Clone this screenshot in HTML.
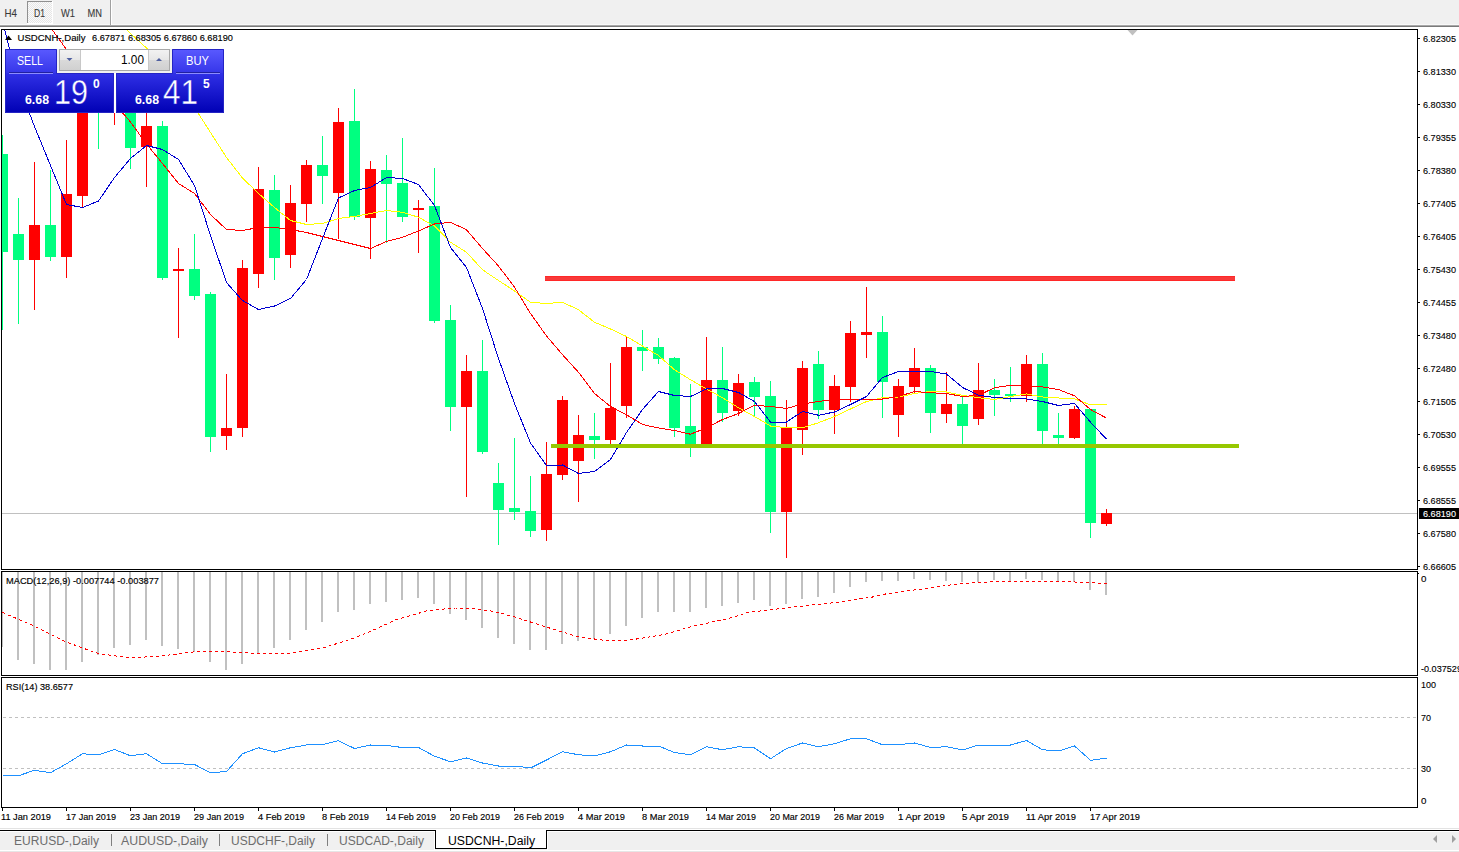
<!DOCTYPE html>
<html><head><meta charset="utf-8"><title>USDCNH-,Daily</title>
<style>
html,body{margin:0;padding:0;background:#fff;width:1459px;height:852px;overflow:hidden}
svg{display:block}
text{font-family:'Liberation Sans',sans-serif}
</style></head><body>
<svg width="1459" height="852" viewBox="0 0 1459 852">
<defs>
<clipPath id="cm"><rect x="2" y="30" width="1415" height="539"/></clipPath>
<clipPath id="cmacd"><rect x="2" y="572" width="1415" height="103"/></clipPath>
<clipPath id="crsi"><rect x="2" y="678" width="1415" height="129"/></clipPath>
<pattern id="chk" x="0" y="0" width="2" height="2" patternUnits="userSpaceOnUse"><rect width="2" height="2" fill="#fbfbfb"/><rect width="1" height="1" fill="#e6e6e6"/><rect x="1" y="1" width="1" height="1" fill="#e6e6e6"/></pattern>
<linearGradient id="gb1" x1="0" y1="0" x2="0" y2="1"><stop offset="0" stop-color="#5a5aff"/><stop offset="1" stop-color="#3434e8"/></linearGradient>
<linearGradient id="gb2" x1="0" y1="0" x2="0" y2="1"><stop offset="0" stop-color="#3030e6"/><stop offset="1" stop-color="#0000b4"/></linearGradient>
<linearGradient id="gbtn" x1="0" y1="0" x2="0" y2="1"><stop offset="0" stop-color="#f2f2f2"/><stop offset="0.5" stop-color="#e6e6e6"/><stop offset="0.5" stop-color="#dadada"/><stop offset="1" stop-color="#d0d0d0"/></linearGradient>
</defs>
<rect x="0" y="0" width="1459" height="852" fill="#ffffff"/>

<rect x="0" y="0" width="1459" height="25" fill="#f0f0f0"/>
<rect x="0" y="24" width="1459" height="1" fill="#f8f8f8"/>
<rect x="0" y="25" width="1459" height="1" fill="#a8a8a8"/>
<rect x="0" y="26" width="1459" height="1" fill="#7a7a7a"/>
<g shape-rendering="crispEdges">
<rect x="27" y="1" width="26" height="23" fill="#ffffff"/>
<rect x="27" y="1" width="25" height="22" fill="#909090"/>
<rect x="28" y="2" width="24" height="21" fill="url(#chk)"/>
<rect x="110" y="0" width="1" height="25" fill="#a0a0a0"/>
<rect x="111" y="0" width="1" height="25" fill="#ffffff"/>
</g>

<text x="4.5" y="17" font-size="10.6" fill="#3a3a3a" stroke="#3a3a3a" stroke-width="0.1" textLength="12.5" lengthAdjust="spacingAndGlyphs">H4</text>
<text x="34" y="17" font-size="10.6" fill="#3a3a3a" stroke="#3a3a3a" stroke-width="0.1" textLength="11" lengthAdjust="spacingAndGlyphs">D1</text>
<text x="61" y="17" font-size="10.6" fill="#3a3a3a" stroke="#3a3a3a" stroke-width="0.1" textLength="14" lengthAdjust="spacingAndGlyphs">W1</text>
<text x="87.5" y="17" font-size="10.6" fill="#3a3a3a" stroke="#3a3a3a" stroke-width="0.1" textLength="14.5" lengthAdjust="spacingAndGlyphs">MN</text>
<g shape-rendering="crispEdges" fill="#000">
<rect x="1" y="29" width="1417" height="1"/>
<rect x="1" y="569" width="1417" height="1"/>
<rect x="1" y="571" width="1417" height="1"/>
<rect x="1" y="675" width="1417" height="1"/>
<rect x="1" y="677" width="1417" height="1"/>
<rect x="1" y="807" width="1417" height="1"/>
<rect x="1" y="29" width="1" height="541"/>
<rect x="1" y="571" width="1" height="105"/>
<rect x="1" y="677" width="1" height="131"/>
<rect x="1417" y="29" width="1" height="541"/>
<rect x="1417" y="571" width="1" height="105"/>
<rect x="1417" y="677" width="1" height="131"/>
</g>

<g clip-path="url(#cm)" shape-rendering="crispEdges">
<rect x="2" y="513" width="1415" height="1" fill="#c0c0c0"/>
<rect x="2" y="135" width="1" height="195" fill="#00ff80"/>
<rect x="-3" y="154" width="11" height="98" fill="#00ff80"/>
<rect x="18" y="198" width="1" height="126" fill="#00ff80"/>
<rect x="13" y="234" width="11" height="26" fill="#00ff80"/>
<rect x="34" y="162" width="1" height="148" fill="#ff0000"/>
<rect x="29" y="225" width="11" height="35" fill="#ff0000"/>
<rect x="50" y="170" width="1" height="91" fill="#00ff80"/>
<rect x="45" y="225" width="11" height="32" fill="#00ff80"/>
<rect x="66" y="140" width="1" height="138" fill="#ff0000"/>
<rect x="61" y="194" width="11" height="63" fill="#ff0000"/>
<rect x="82" y="90" width="1" height="117" fill="#ff0000"/>
<rect x="77" y="100" width="11" height="96" fill="#ff0000"/>
<rect x="98" y="60" width="1" height="89" fill="#00ff80"/>
<rect x="93" y="70" width="11" height="30" fill="#00ff80"/>
<rect x="114" y="60" width="1" height="65" fill="#ff0000"/>
<rect x="109" y="70" width="11" height="35" fill="#ff0000"/>
<rect x="130" y="80" width="1" height="89" fill="#00ff80"/>
<rect x="125" y="90" width="11" height="58" fill="#00ff80"/>
<rect x="146" y="105" width="1" height="82" fill="#ff0000"/>
<rect x="141" y="126" width="11" height="21" fill="#ff0000"/>
<rect x="162" y="121" width="1" height="159" fill="#00ff80"/>
<rect x="157" y="126" width="11" height="152" fill="#00ff80"/>
<rect x="178" y="248" width="1" height="90" fill="#ff0000"/>
<rect x="173" y="269" width="11" height="2" fill="#ff0000"/>
<rect x="194" y="234" width="1" height="66" fill="#00ff80"/>
<rect x="189" y="269" width="11" height="27" fill="#00ff80"/>
<rect x="210" y="292" width="1" height="160" fill="#00ff80"/>
<rect x="205" y="294" width="11" height="143" fill="#00ff80"/>
<rect x="226" y="374" width="1" height="76" fill="#ff0000"/>
<rect x="221" y="428" width="11" height="8" fill="#ff0000"/>
<rect x="242" y="260" width="1" height="177" fill="#ff0000"/>
<rect x="237" y="268" width="11" height="160" fill="#ff0000"/>
<rect x="258" y="167" width="1" height="121" fill="#ff0000"/>
<rect x="253" y="189" width="11" height="85" fill="#ff0000"/>
<rect x="274" y="175" width="1" height="105" fill="#00ff80"/>
<rect x="269" y="190" width="11" height="68" fill="#00ff80"/>
<rect x="290" y="185" width="1" height="83" fill="#ff0000"/>
<rect x="285" y="203" width="11" height="52" fill="#ff0000"/>
<rect x="306" y="160" width="1" height="62" fill="#ff0000"/>
<rect x="301" y="165" width="11" height="39" fill="#ff0000"/>
<rect x="322" y="136" width="1" height="68" fill="#00ff80"/>
<rect x="317" y="165" width="11" height="11" fill="#00ff80"/>
<rect x="338" y="108" width="1" height="131" fill="#ff0000"/>
<rect x="333" y="122" width="11" height="71" fill="#ff0000"/>
<rect x="354" y="89" width="1" height="131" fill="#00ff80"/>
<rect x="349" y="121" width="11" height="96" fill="#00ff80"/>
<rect x="370" y="161" width="1" height="98" fill="#ff0000"/>
<rect x="365" y="169" width="11" height="49" fill="#ff0000"/>
<rect x="386" y="155" width="1" height="88" fill="#00ff80"/>
<rect x="381" y="170" width="11" height="14" fill="#00ff80"/>
<rect x="402" y="138" width="1" height="84" fill="#00ff80"/>
<rect x="397" y="183" width="11" height="34" fill="#00ff80"/>
<rect x="418" y="200" width="1" height="53" fill="#ff0000"/>
<rect x="413" y="208" width="11" height="2" fill="#ff0000"/>
<rect x="434" y="168" width="1" height="155" fill="#00ff80"/>
<rect x="429" y="206" width="11" height="115" fill="#00ff80"/>
<rect x="450" y="305" width="1" height="126" fill="#00ff80"/>
<rect x="445" y="320" width="11" height="87" fill="#00ff80"/>
<rect x="466" y="355" width="1" height="142" fill="#ff0000"/>
<rect x="461" y="371" width="11" height="36" fill="#ff0000"/>
<rect x="482" y="340" width="1" height="114" fill="#00ff80"/>
<rect x="477" y="371" width="11" height="81" fill="#00ff80"/>
<rect x="498" y="463" width="1" height="82" fill="#00ff80"/>
<rect x="493" y="483" width="11" height="27" fill="#00ff80"/>
<rect x="514" y="438" width="1" height="82" fill="#00ff80"/>
<rect x="509" y="508" width="11" height="4" fill="#00ff80"/>
<rect x="530" y="476" width="1" height="61" fill="#00ff80"/>
<rect x="525" y="511" width="11" height="20" fill="#00ff80"/>
<rect x="546" y="442" width="1" height="99" fill="#ff0000"/>
<rect x="541" y="474" width="11" height="56" fill="#ff0000"/>
<rect x="562" y="396" width="1" height="84" fill="#ff0000"/>
<rect x="557" y="400" width="11" height="75" fill="#ff0000"/>
<rect x="578" y="415" width="1" height="87" fill="#ff0000"/>
<rect x="573" y="435" width="11" height="26" fill="#ff0000"/>
<rect x="594" y="413" width="1" height="46" fill="#00ff80"/>
<rect x="589" y="436" width="11" height="4" fill="#00ff80"/>
<rect x="610" y="363" width="1" height="82" fill="#ff0000"/>
<rect x="605" y="408" width="11" height="32" fill="#ff0000"/>
<rect x="626" y="337" width="1" height="81" fill="#ff0000"/>
<rect x="621" y="347" width="11" height="59" fill="#ff0000"/>
<rect x="642" y="330" width="1" height="41" fill="#00ff80"/>
<rect x="637" y="347" width="11" height="4" fill="#00ff80"/>
<rect x="658" y="338" width="1" height="26" fill="#00ff80"/>
<rect x="653" y="347" width="11" height="12" fill="#00ff80"/>
<rect x="674" y="357" width="1" height="80" fill="#00ff80"/>
<rect x="669" y="358" width="11" height="70" fill="#00ff80"/>
<rect x="690" y="384" width="1" height="73" fill="#00ff80"/>
<rect x="685" y="426" width="11" height="19" fill="#00ff80"/>
<rect x="706" y="337" width="1" height="108" fill="#ff0000"/>
<rect x="701" y="380" width="11" height="64" fill="#ff0000"/>
<rect x="722" y="347" width="1" height="75" fill="#00ff80"/>
<rect x="717" y="380" width="11" height="33" fill="#00ff80"/>
<rect x="738" y="374" width="1" height="42" fill="#ff0000"/>
<rect x="733" y="383" width="11" height="28" fill="#ff0000"/>
<rect x="754" y="377" width="1" height="40" fill="#00ff80"/>
<rect x="749" y="382" width="11" height="15" fill="#00ff80"/>
<rect x="770" y="381" width="1" height="152" fill="#00ff80"/>
<rect x="765" y="396" width="11" height="116" fill="#00ff80"/>
<rect x="786" y="400" width="1" height="158" fill="#ff0000"/>
<rect x="781" y="427" width="11" height="85" fill="#ff0000"/>
<rect x="802" y="361" width="1" height="94" fill="#ff0000"/>
<rect x="797" y="368" width="11" height="62" fill="#ff0000"/>
<rect x="818" y="351" width="1" height="68" fill="#00ff80"/>
<rect x="813" y="364" width="11" height="46" fill="#00ff80"/>
<rect x="834" y="375" width="1" height="59" fill="#ff0000"/>
<rect x="829" y="386" width="11" height="24" fill="#ff0000"/>
<rect x="850" y="321" width="1" height="81" fill="#ff0000"/>
<rect x="845" y="333" width="11" height="54" fill="#ff0000"/>
<rect x="866" y="287" width="1" height="71" fill="#ff0000"/>
<rect x="861" y="332" width="11" height="3" fill="#ff0000"/>
<rect x="882" y="316" width="1" height="102" fill="#00ff80"/>
<rect x="877" y="332" width="11" height="50" fill="#00ff80"/>
<rect x="898" y="379" width="1" height="58" fill="#ff0000"/>
<rect x="893" y="386" width="11" height="29" fill="#ff0000"/>
<rect x="914" y="348" width="1" height="45" fill="#ff0000"/>
<rect x="909" y="368" width="11" height="19" fill="#ff0000"/>
<rect x="930" y="365" width="1" height="68" fill="#00ff80"/>
<rect x="925" y="368" width="11" height="45" fill="#00ff80"/>
<rect x="946" y="372" width="1" height="51" fill="#ff0000"/>
<rect x="941" y="404" width="11" height="10" fill="#ff0000"/>
<rect x="962" y="397" width="1" height="48" fill="#00ff80"/>
<rect x="957" y="404" width="11" height="22" fill="#00ff80"/>
<rect x="978" y="363" width="1" height="62" fill="#ff0000"/>
<rect x="973" y="390" width="11" height="29" fill="#ff0000"/>
<rect x="994" y="379" width="1" height="37" fill="#00ff80"/>
<rect x="989" y="390" width="11" height="5" fill="#00ff80"/>
<rect x="1010" y="367" width="1" height="35" fill="#00ff80"/>
<rect x="1005" y="394" width="11" height="2" fill="#00ff80"/>
<rect x="1026" y="355" width="1" height="47" fill="#ff0000"/>
<rect x="1021" y="364" width="11" height="32" fill="#ff0000"/>
<rect x="1042" y="353" width="1" height="91" fill="#00ff80"/>
<rect x="1037" y="364" width="11" height="67" fill="#00ff80"/>
<rect x="1058" y="413" width="1" height="31" fill="#00ff80"/>
<rect x="1053" y="435" width="11" height="3" fill="#00ff80"/>
<rect x="1074" y="406" width="1" height="33" fill="#ff0000"/>
<rect x="1069" y="409" width="11" height="29" fill="#ff0000"/>
<rect x="1090" y="409" width="1" height="129" fill="#00ff80"/>
<rect x="1085" y="409" width="11" height="114" fill="#00ff80"/>
<rect x="1106" y="509" width="1" height="17" fill="#ff0000"/>
<rect x="1101" y="513" width="11" height="11" fill="#ff0000"/>
</g>
<g clip-path="url(#cm)">
<polyline points="114.5,18.5 130.5,33.5 146.5,48.0 162.5,68.5 178.5,88.5 194.5,107.5 210.5,132.5 226.5,157.5 242.5,178.0 258.5,193.5 274.5,207.5 290.5,220.5 306.5,224.5 322.5,223.5 338.5,218.5 354.5,216.5 370.5,213.5 386.5,210.5 402.5,212.25 418.5,217.25 434.5,226.0 450.5,242.25 466.5,252.25 482.5,269.75 498.5,280.5 514.5,291.0 530.5,302.25 546.5,303.5 562.5,302.25 578.5,309.75 594.5,322.25 610.5,329.0 626.5,336.5 642.5,346.0 658.5,355.5 674.5,369.75 690.5,379.75 706.5,389.0 722.5,397.75 738.5,407.75 754.5,416.5 770.5,426.0 786.5,427.75 802.5,427.75 818.5,422.75 834.5,416.5 850.5,409.0 866.5,401.5 882.5,397.75 898.5,397.0 914.5,393.5 930.5,391.5 946.5,392.0 962.5,395.25 978.5,397.75 994.5,399.5 1010.5,396.5 1026.5,393.9 1042.5,397.0 1058.5,398.0 1074.5,398.9 1090.5,404.9 1106.5,404.9" fill="none" stroke="#ffff00" stroke-width="1" shape-rendering="crispEdges" />
<polyline points="34.5,3.5 50.5,27.5 66.5,49.5 82.5,67.5 98.5,85.5 114.5,103.5 130.5,122.0 146.5,144.0 162.5,163.5 178.5,183.5 194.5,193.5 210.5,214.5 226.5,229.5 242.5,230.5 258.5,227.5 274.5,227.5 290.5,229.5 306.5,232.5 322.5,236.5 338.5,240.5 354.5,244.5 370.5,248.5 386.5,241.5 402.5,237.25 418.5,231.0 434.5,224.0 450.5,222.25 466.5,229.75 482.5,248.5 498.5,266.0 514.5,287.25 530.5,313.5 546.5,336.0 562.5,354.75 578.5,372.25 594.5,393.5 610.5,406.5 626.5,414.75 642.5,424.5 658.5,428.0 674.5,430.5 690.5,434.25 706.5,427.75 722.5,419.5 738.5,413.5 754.5,405.25 770.5,406.5 786.5,408.5 802.5,404.0 818.5,401.5 834.5,399.5 850.5,399.0 866.5,399.0 882.5,399.0 898.5,396.5 914.5,391.5 930.5,392.75 946.5,393.5 962.5,396.5 978.5,395.25 994.5,387.75 1010.5,385.25 1026.5,386.0 1042.5,387.0 1058.5,389.5 1074.5,395.8 1090.5,409.5 1106.5,418.1" fill="none" stroke="#ff0000" stroke-width="1" shape-rendering="crispEdges" />
<polyline points="2.5,21.5 18.5,84.5 34.5,126.5 50.5,165.5 66.5,204.5 82.5,207.5 98.5,201.0 114.5,177.5 130.5,158.5 146.5,145.5 162.5,149.5 178.5,159.5 194.5,185.5 210.5,235.5 226.5,282.5 242.5,300.5 258.5,309.5 274.5,306.0 290.5,298.5 306.5,279.5 322.5,238.5 338.5,198.0 354.5,190.5 370.5,187.5 386.5,177.5 402.5,178.5 418.5,184.5 434.5,205.5 450.5,247.5 466.5,267.5 482.5,308.5 498.5,358.5 514.5,403.5 530.5,443.0 546.5,465.5 562.5,465.0 578.5,473.5 594.5,471.5 610.5,459.5 626.5,432.5 642.5,409.5 658.5,391.5 674.5,395.5 690.5,396.5 706.5,389.0 722.5,388.5 738.5,392.5 754.5,401.5 770.5,422.0 786.5,422.0 802.5,411.5 818.5,415.25 834.5,412.0 850.5,404.5 866.5,396.5 882.5,377.5 898.5,371.5 914.5,371.5 930.5,371.5 946.5,374.0 962.5,387.5 978.5,395.25 994.5,397.5 1010.5,398.5 1026.5,399.0 1042.5,401.5 1058.5,405.5 1074.5,403.5 1090.5,422.2 1106.5,439.1" fill="none" stroke="#0000d0" stroke-width="1" shape-rendering="crispEdges" />
<rect x="545" y="276" width="690" height="5" fill="#f83a3a" shape-rendering="crispEdges"/>
<rect x="545" y="276" width="690" height="1" fill="#ff2828" shape-rendering="crispEdges"/>
<rect x="545" y="280" width="690" height="1" fill="#ff2828" shape-rendering="crispEdges"/>
<rect x="551" y="444" width="688" height="4" fill="#96c800" shape-rendering="crispEdges"/>
</g>
<g clip-path="url(#cmacd)" shape-rendering="crispEdges">
<rect x="1" y="572" width="2" height="75" fill="#c0c0c0"/>
<rect x="17" y="572" width="2" height="88" fill="#c0c0c0"/>
<rect x="33" y="572" width="2" height="92" fill="#c0c0c0"/>
<rect x="49" y="572" width="2" height="98" fill="#c0c0c0"/>
<rect x="65" y="572" width="2" height="98" fill="#c0c0c0"/>
<rect x="81" y="572" width="2" height="90" fill="#c0c0c0"/>
<rect x="97" y="572" width="2" height="83" fill="#c0c0c0"/>
<rect x="113" y="572" width="2" height="76" fill="#c0c0c0"/>
<rect x="129" y="572" width="2" height="73" fill="#c0c0c0"/>
<rect x="145" y="572" width="2" height="68" fill="#c0c0c0"/>
<rect x="161" y="572" width="2" height="74" fill="#c0c0c0"/>
<rect x="177" y="572" width="2" height="77" fill="#c0c0c0"/>
<rect x="193" y="572" width="2" height="80" fill="#c0c0c0"/>
<rect x="209" y="572" width="2" height="90" fill="#c0c0c0"/>
<rect x="225" y="572" width="2" height="98" fill="#c0c0c0"/>
<rect x="241" y="572" width="2" height="92" fill="#c0c0c0"/>
<rect x="257" y="572" width="2" height="81" fill="#c0c0c0"/>
<rect x="273" y="572" width="2" height="76" fill="#c0c0c0"/>
<rect x="289" y="572" width="2" height="68" fill="#c0c0c0"/>
<rect x="305" y="572" width="2" height="58" fill="#c0c0c0"/>
<rect x="321" y="572" width="2" height="50" fill="#c0c0c0"/>
<rect x="337" y="572" width="2" height="40" fill="#c0c0c0"/>
<rect x="353" y="572" width="2" height="38" fill="#c0c0c0"/>
<rect x="369" y="572" width="2" height="32" fill="#c0c0c0"/>
<rect x="385" y="572" width="2" height="30" fill="#c0c0c0"/>
<rect x="401" y="572" width="2" height="28" fill="#c0c0c0"/>
<rect x="417" y="572" width="2" height="26" fill="#c0c0c0"/>
<rect x="433" y="572" width="2" height="32" fill="#c0c0c0"/>
<rect x="449" y="572" width="2" height="42" fill="#c0c0c0"/>
<rect x="465" y="572" width="2" height="48" fill="#c0c0c0"/>
<rect x="481" y="572" width="2" height="56" fill="#c0c0c0"/>
<rect x="497" y="572" width="2" height="66" fill="#c0c0c0"/>
<rect x="513" y="572" width="2" height="72" fill="#c0c0c0"/>
<rect x="529" y="572" width="2" height="78" fill="#c0c0c0"/>
<rect x="545" y="572" width="2" height="78" fill="#c0c0c0"/>
<rect x="561" y="572" width="2" height="72" fill="#c0c0c0"/>
<rect x="577" y="572" width="2" height="69" fill="#c0c0c0"/>
<rect x="593" y="572" width="2" height="67" fill="#c0c0c0"/>
<rect x="609" y="572" width="2" height="62" fill="#c0c0c0"/>
<rect x="625" y="572" width="2" height="54" fill="#c0c0c0"/>
<rect x="641" y="572" width="2" height="46" fill="#c0c0c0"/>
<rect x="657" y="572" width="2" height="40" fill="#c0c0c0"/>
<rect x="673" y="572" width="2" height="40" fill="#c0c0c0"/>
<rect x="689" y="572" width="2" height="40" fill="#c0c0c0"/>
<rect x="705" y="572" width="2" height="36" fill="#c0c0c0"/>
<rect x="721" y="572" width="2" height="34" fill="#c0c0c0"/>
<rect x="737" y="572" width="2" height="31" fill="#c0c0c0"/>
<rect x="753" y="572" width="2" height="28" fill="#c0c0c0"/>
<rect x="769" y="572" width="2" height="34" fill="#c0c0c0"/>
<rect x="785" y="572" width="2" height="32" fill="#c0c0c0"/>
<rect x="801" y="572" width="2" height="27" fill="#c0c0c0"/>
<rect x="817" y="572" width="2" height="25" fill="#c0c0c0"/>
<rect x="833" y="572" width="2" height="21" fill="#c0c0c0"/>
<rect x="849" y="572" width="2" height="15" fill="#c0c0c0"/>
<rect x="865" y="572" width="2" height="10" fill="#c0c0c0"/>
<rect x="881" y="572" width="2" height="9" fill="#c0c0c0"/>
<rect x="897" y="572" width="2" height="9" fill="#c0c0c0"/>
<rect x="913" y="572" width="2" height="7" fill="#c0c0c0"/>
<rect x="929" y="572" width="2" height="8" fill="#c0c0c0"/>
<rect x="945" y="572" width="2" height="9" fill="#c0c0c0"/>
<rect x="961" y="572" width="2" height="10" fill="#c0c0c0"/>
<rect x="977" y="572" width="2" height="10" fill="#c0c0c0"/>
<rect x="993" y="572" width="2" height="8" fill="#c0c0c0"/>
<rect x="1009" y="572" width="2" height="9" fill="#c0c0c0"/>
<rect x="1025" y="572" width="2" height="7" fill="#c0c0c0"/>
<rect x="1041" y="572" width="2" height="8" fill="#c0c0c0"/>
<rect x="1057" y="572" width="2" height="10" fill="#c0c0c0"/>
<rect x="1073" y="572" width="2" height="10" fill="#c0c0c0"/>
<rect x="1089" y="572" width="2" height="18" fill="#c0c0c0"/>
<rect x="1105" y="572" width="2" height="23" fill="#c0c0c0"/>
<polyline points="2.5,612.5 33.0,625.5 65.5,641.75 98.0,653.5 130.5,658.0 160.5,656.0 195.5,651.75 225.5,651.75 258.0,653.5 290.5,653.5 323.0,648.0 350.5,639.25 368.0,632.5 395.5,620.0 428.0,610.5 455.5,608.0 470.5,608.0 495.5,611.75 515.5,617.25 545.5,626.75 578.0,636.75 605.5,640.5 630.5,640.0 665.5,634.25 690.5,626.75 730.5,618.0 748.0,612.5 768.0,610.0 814.25,604.75 838.0,602.25 874.25,596.75 885.5,594.0 934.25,587.25 959.25,583.75 993.0,581.75 1043.0,581.0 1083.0,582.25 1095.25,583.0 1106.5,584.0" fill="none" stroke="#ff0000" stroke-width="1" stroke-dasharray="3 3"/>
</g>
<g clip-path="url(#crsi)">
<line x1="3" y1="717.5" x2="1417" y2="717.5" stroke="#c0c0c0" stroke-dasharray="3 3" shape-rendering="crispEdges"/>
<line x1="3" y1="768.5" x2="1417" y2="768.5" stroke="#c0c0c0" stroke-dasharray="3 3" shape-rendering="crispEdges"/>
<polyline points="2.5,775.75 18.5,775.75 34.5,770.25 50.5,772.75 66.5,763.75 82.5,753.75 98.5,755.0 114.5,749.5 130.5,755.75 146.5,753.75 162.5,763.75 178.5,763.75 194.5,764.5 210.5,772.75 226.5,771.5 242.5,753.75 258.5,747.75 274.5,752.0 290.5,747.75 306.5,745.0 322.5,744.5 338.5,740.75 354.5,748.5 370.5,745.0 386.5,745.5 402.5,747.5 418.5,747.5 434.5,756.25 450.5,761.75 466.5,758.0 482.5,763.0 498.5,766.0 514.5,766.0 530.5,768.0 546.5,760.0 562.5,751.75 578.5,754.75 594.5,756.0 610.5,751.75 626.5,745.0 642.5,746.0 658.5,746.0 674.5,752.5 690.5,754.75 706.5,746.75 722.5,749.75 738.5,746.75 754.5,748.0 770.5,758.75 786.5,748.5 802.5,743.0 818.5,746.75 834.5,743.75 850.5,738.75 866.5,738.75 882.5,744.75 898.5,744.75 914.5,743.0 930.5,747.5 946.5,746.75 962.5,750.0 978.5,745.0 994.5,745.0 1010.5,745.0 1026.5,740.5 1042.5,749.75 1058.5,751.0 1074.5,746.0 1090.5,760.3 1106.5,758.1" fill="none" stroke="#1e90ff" stroke-width="1" shape-rendering="crispEdges" />
</g>
<g shape-rendering="crispEdges">
<rect x="1418" y="38" width="2" height="1" fill="#000"/>
<rect x="1418" y="71" width="2" height="1" fill="#000"/>
<rect x="1418" y="104" width="2" height="1" fill="#000"/>
<rect x="1418" y="137" width="2" height="1" fill="#000"/>
<rect x="1418" y="170" width="2" height="1" fill="#000"/>
<rect x="1418" y="203" width="2" height="1" fill="#000"/>
<rect x="1418" y="236" width="2" height="1" fill="#000"/>
<rect x="1418" y="269" width="2" height="1" fill="#000"/>
<rect x="1418" y="302" width="2" height="1" fill="#000"/>
<rect x="1418" y="335" width="2" height="1" fill="#000"/>
<rect x="1418" y="368" width="2" height="1" fill="#000"/>
<rect x="1418" y="401" width="2" height="1" fill="#000"/>
<rect x="1418" y="434" width="2" height="1" fill="#000"/>
<rect x="1418" y="467" width="2" height="1" fill="#000"/>
<rect x="1418" y="500" width="2" height="1" fill="#000"/>
<rect x="1418" y="533" width="2" height="1" fill="#000"/>
<rect x="1418" y="566" width="2" height="1" fill="#000"/>
</g>
<text x="1423" y="42" font-size="9.8" fill="#000" stroke="#000" stroke-width="0.12" textLength="33" lengthAdjust="spacingAndGlyphs">6.82305</text>
<text x="1423" y="75" font-size="9.8" fill="#000" stroke="#000" stroke-width="0.12" textLength="33" lengthAdjust="spacingAndGlyphs">6.81330</text>
<text x="1423" y="108" font-size="9.8" fill="#000" stroke="#000" stroke-width="0.12" textLength="33" lengthAdjust="spacingAndGlyphs">6.80330</text>
<text x="1423" y="141" font-size="9.8" fill="#000" stroke="#000" stroke-width="0.12" textLength="33" lengthAdjust="spacingAndGlyphs">6.79355</text>
<text x="1423" y="174" font-size="9.8" fill="#000" stroke="#000" stroke-width="0.12" textLength="33" lengthAdjust="spacingAndGlyphs">6.78380</text>
<text x="1423" y="207" font-size="9.8" fill="#000" stroke="#000" stroke-width="0.12" textLength="33" lengthAdjust="spacingAndGlyphs">6.77405</text>
<text x="1423" y="240" font-size="9.8" fill="#000" stroke="#000" stroke-width="0.12" textLength="33" lengthAdjust="spacingAndGlyphs">6.76405</text>
<text x="1423" y="273" font-size="9.8" fill="#000" stroke="#000" stroke-width="0.12" textLength="33" lengthAdjust="spacingAndGlyphs">6.75430</text>
<text x="1423" y="306" font-size="9.8" fill="#000" stroke="#000" stroke-width="0.12" textLength="33" lengthAdjust="spacingAndGlyphs">6.74455</text>
<text x="1423" y="339" font-size="9.8" fill="#000" stroke="#000" stroke-width="0.12" textLength="33" lengthAdjust="spacingAndGlyphs">6.73480</text>
<text x="1423" y="372" font-size="9.8" fill="#000" stroke="#000" stroke-width="0.12" textLength="33" lengthAdjust="spacingAndGlyphs">6.72480</text>
<text x="1423" y="405" font-size="9.8" fill="#000" stroke="#000" stroke-width="0.12" textLength="33" lengthAdjust="spacingAndGlyphs">6.71505</text>
<text x="1423" y="438" font-size="9.8" fill="#000" stroke="#000" stroke-width="0.12" textLength="33" lengthAdjust="spacingAndGlyphs">6.70530</text>
<text x="1423" y="471" font-size="9.8" fill="#000" stroke="#000" stroke-width="0.12" textLength="33" lengthAdjust="spacingAndGlyphs">6.69555</text>
<text x="1423" y="504" font-size="9.8" fill="#000" stroke="#000" stroke-width="0.12" textLength="33" lengthAdjust="spacingAndGlyphs">6.68555</text>
<text x="1423" y="537" font-size="9.8" fill="#000" stroke="#000" stroke-width="0.12" textLength="33" lengthAdjust="spacingAndGlyphs">6.67580</text>
<text x="1423" y="570" font-size="9.8" fill="#000" stroke="#000" stroke-width="0.12" textLength="33" lengthAdjust="spacingAndGlyphs">6.66605</text>
<rect x="1419" y="508" width="40" height="11" fill="#000"/>
<text x="1423" y="517" font-size="9.8" fill="#fff" stroke="#fff" stroke-width="0.12" textLength="33" lengthAdjust="spacingAndGlyphs">6.68190</text>
<rect x="1418" y="573" width="1" height="1" fill="#000"/>
<text x="1421" y="582" font-size="9.8" fill="#000" stroke="#000" stroke-width="0.12">0</text>
<text x="1421" y="672" font-size="9.8" fill="#000" stroke="#000" stroke-width="0.12" textLength="41" lengthAdjust="spacingAndGlyphs">-0.037529</text>
<text x="1421" y="688" font-size="9.8" fill="#000" stroke="#000" stroke-width="0.12" textLength="15" lengthAdjust="spacingAndGlyphs">100</text>
<text x="1421" y="721" font-size="9.8" fill="#000" stroke="#000" stroke-width="0.12" textLength="10" lengthAdjust="spacingAndGlyphs">70</text>
<text x="1421" y="772" font-size="9.8" fill="#000" stroke="#000" stroke-width="0.12" textLength="10" lengthAdjust="spacingAndGlyphs">30</text>
<text x="1421" y="804" font-size="9.8" fill="#000" stroke="#000" stroke-width="0.12">0</text>
<g shape-rendering="crispEdges">
<rect x="2" y="808" width="1" height="3" fill="#000"/>
<rect x="66" y="808" width="1" height="3" fill="#000"/>
<rect x="130" y="808" width="1" height="3" fill="#000"/>
<rect x="194" y="808" width="1" height="3" fill="#000"/>
<rect x="258" y="808" width="1" height="3" fill="#000"/>
<rect x="322" y="808" width="1" height="3" fill="#000"/>
<rect x="386" y="808" width="1" height="3" fill="#000"/>
<rect x="450" y="808" width="1" height="3" fill="#000"/>
<rect x="514" y="808" width="1" height="3" fill="#000"/>
<rect x="578" y="808" width="1" height="3" fill="#000"/>
<rect x="642" y="808" width="1" height="3" fill="#000"/>
<rect x="706" y="808" width="1" height="3" fill="#000"/>
<rect x="770" y="808" width="1" height="3" fill="#000"/>
<rect x="834" y="808" width="1" height="3" fill="#000"/>
<rect x="898" y="808" width="1" height="3" fill="#000"/>
<rect x="962" y="808" width="1" height="3" fill="#000"/>
<rect x="1026" y="808" width="1" height="3" fill="#000"/>
<rect x="1090" y="808" width="1" height="3" fill="#000"/>
</g>
<text x="1" y="820" font-size="9.6" fill="#000" stroke="#000" stroke-width="0.15" textLength="50" lengthAdjust="spacingAndGlyphs">11 Jan 2019</text>
<text x="66" y="820" font-size="9.6" fill="#000" stroke="#000" stroke-width="0.15" textLength="50" lengthAdjust="spacingAndGlyphs">17 Jan 2019</text>
<text x="130" y="820" font-size="9.6" fill="#000" stroke="#000" stroke-width="0.15" textLength="50" lengthAdjust="spacingAndGlyphs">23 Jan 2019</text>
<text x="194" y="820" font-size="9.6" fill="#000" stroke="#000" stroke-width="0.15" textLength="50" lengthAdjust="spacingAndGlyphs">29 Jan 2019</text>
<text x="258" y="820" font-size="9.6" fill="#000" stroke="#000" stroke-width="0.15" textLength="47" lengthAdjust="spacingAndGlyphs">4 Feb 2019</text>
<text x="322" y="820" font-size="9.6" fill="#000" stroke="#000" stroke-width="0.15" textLength="47" lengthAdjust="spacingAndGlyphs">8 Feb 2019</text>
<text x="386" y="820" font-size="9.6" fill="#000" stroke="#000" stroke-width="0.15" textLength="50" lengthAdjust="spacingAndGlyphs">14 Feb 2019</text>
<text x="450" y="820" font-size="9.6" fill="#000" stroke="#000" stroke-width="0.15" textLength="50" lengthAdjust="spacingAndGlyphs">20 Feb 2019</text>
<text x="514" y="820" font-size="9.6" fill="#000" stroke="#000" stroke-width="0.15" textLength="50" lengthAdjust="spacingAndGlyphs">26 Feb 2019</text>
<text x="578" y="820" font-size="9.6" fill="#000" stroke="#000" stroke-width="0.15" textLength="47" lengthAdjust="spacingAndGlyphs">4 Mar 2019</text>
<text x="642" y="820" font-size="9.6" fill="#000" stroke="#000" stroke-width="0.15" textLength="47" lengthAdjust="spacingAndGlyphs">8 Mar 2019</text>
<text x="706" y="820" font-size="9.6" fill="#000" stroke="#000" stroke-width="0.15" textLength="50" lengthAdjust="spacingAndGlyphs">14 Mar 2019</text>
<text x="770" y="820" font-size="9.6" fill="#000" stroke="#000" stroke-width="0.15" textLength="50" lengthAdjust="spacingAndGlyphs">20 Mar 2019</text>
<text x="834" y="820" font-size="9.6" fill="#000" stroke="#000" stroke-width="0.15" textLength="50" lengthAdjust="spacingAndGlyphs">26 Mar 2019</text>
<text x="898" y="820" font-size="9.6" fill="#000" stroke="#000" stroke-width="0.15" textLength="47" lengthAdjust="spacingAndGlyphs">1 Apr 2019</text>
<text x="962" y="820" font-size="9.6" fill="#000" stroke="#000" stroke-width="0.15" textLength="47" lengthAdjust="spacingAndGlyphs">5 Apr 2019</text>
<text x="1026" y="820" font-size="9.6" fill="#000" stroke="#000" stroke-width="0.15" textLength="50" lengthAdjust="spacingAndGlyphs">11 Apr 2019</text>
<text x="1090" y="820" font-size="9.6" fill="#000" stroke="#000" stroke-width="0.15" textLength="50" lengthAdjust="spacingAndGlyphs">17 Apr 2019</text>
<text x="17.5" y="41" font-size="9.6" fill="#000" stroke="#000" stroke-width="0.15" textLength="68" lengthAdjust="spacingAndGlyphs">USDCNH-,Daily</text>
<text x="92" y="41" font-size="9.6" fill="#000" stroke="#000" stroke-width="0.15" textLength="141" lengthAdjust="spacingAndGlyphs">6.67871 6.68305 6.67860 6.68190</text>
<text x="6" y="584" font-size="9.6" fill="#000" stroke="#000" stroke-width="0.15" textLength="153" lengthAdjust="spacingAndGlyphs">MACD(12,26,9) -0.007744 -0.003877</text>
<text x="6" y="690" font-size="9.6" fill="#000" stroke="#000" stroke-width="0.15" textLength="67" lengthAdjust="spacingAndGlyphs">RSI(14) 38.6577</text>
<g shape-rendering="crispEdges">
<rect x="0" y="828" width="1459" height="1" fill="#e3e3e3"/>
<rect x="0" y="830" width="1459" height="1" fill="#000"/>
<rect x="0" y="832" width="1459" height="18" fill="#f0f0f0"/>
<rect x="0" y="851" width="1459" height="1" fill="#e6e6e6"/>
<rect x="435" y="830" width="112" height="19" fill="#000"/>
<rect x="436" y="830" width="110" height="18" fill="#fff"/>
<rect x="547" y="831" width="1" height="19" fill="#fff"/>
<rect x="434" y="831" width="1" height="19" fill="#fff"/>
<rect x="111" y="834" width="1" height="12" fill="#808080"/>
<rect x="219" y="834" width="1" height="12" fill="#808080"/>
<rect x="327" y="834" width="1" height="12" fill="#808080"/>
</g>

<text x="14" y="845" font-size="12" fill="#6d6d6d" textLength="85" lengthAdjust="spacingAndGlyphs">EURUSD-,Daily</text>
<text x="121" y="845" font-size="12" fill="#6d6d6d" textLength="87" lengthAdjust="spacingAndGlyphs">AUDUSD-,Daily</text>
<text x="231" y="845" font-size="12" fill="#6d6d6d" textLength="84" lengthAdjust="spacingAndGlyphs">USDCHF-,Daily</text>
<text x="339" y="845" font-size="12" fill="#6d6d6d" textLength="85" lengthAdjust="spacingAndGlyphs">USDCAD-,Daily</text>
<text x="448" y="845" font-size="12" fill="#000" textLength="87" lengthAdjust="spacingAndGlyphs">USDCNH-,Daily</text>
<path d="M1437 835 L1433 839 L1437 843 Z" fill="#a0a0a0"/><path d="M1452 835 L1456 839 L1452 843 Z" fill="#a0a0a0"/>
<g>
<rect x="5" y="49" width="219" height="64" fill="#ffffff"/>
<rect x="5" y="49" width="52" height="25" fill="url(#gb1)"/>
<rect x="172" y="49" width="52" height="25" fill="url(#gb1)"/>
<rect x="5" y="73" width="109" height="40" fill="url(#gb2)"/>
<rect x="116" y="73" width="108" height="40" fill="url(#gb2)"/>
<rect x="9" y="72" width="44" height="1" fill="#2020a0"/>
<rect x="9" y="73" width="44" height="1" fill="#8c8cff"/>
<rect x="176" y="72" width="44" height="1" fill="#2020a0"/>
<rect x="176" y="73" width="44" height="1" fill="#8c8cff"/>
<path d="M5.5 49.5 H56.5 V73.5 H113.5 V112.5 H5.5 Z" fill="none" stroke="#2424c4"/>
<path d="M172.5 49.5 H223.5 V112.5 H116.5 V73.5 H172.5 Z" fill="none" stroke="#2424c4"/>
<rect x="57" y="49" width="115" height="24" fill="#f0f0f0"/>
<rect x="59.5" y="49.5" width="110" height="21" fill="#fff" stroke="#a8a8a8"/>
<rect x="60" y="50" width="20" height="20" fill="url(#gbtn)"/>
<rect x="149" y="50" width="20" height="20" fill="url(#gbtn)"/>
<rect x="80" y="50" width="1" height="20" fill="#c8c8c8"/>
<rect x="148" y="50" width="1" height="20" fill="#c8c8c8"/>
<path d="M66.5 58 H72.5 L69.5 61 Z" fill="#5060a0"/>
<path d="M156 61 H162 L159 58 Z" fill="#5060a0"/>
</g>

<text x="17" y="65" font-size="12" fill="#fff" textLength="26" lengthAdjust="spacingAndGlyphs">SELL</text>
<text x="186" y="65" font-size="12" fill="#fff" textLength="23" lengthAdjust="spacingAndGlyphs">BUY</text>
<text x="121" y="64" font-size="12" fill="#000" textLength="23" lengthAdjust="spacingAndGlyphs">1.00</text>
<text x="25" y="104" font-size="12.5" font-weight="bold" fill="#fff" textLength="24" lengthAdjust="spacingAndGlyphs">6.68</text>
<text x="54" y="104" font-size="35" fill="#fff" stroke="#1a1ad8" stroke-width="0.45" textLength="34" lengthAdjust="spacingAndGlyphs">19</text>
<text x="93" y="88" font-size="12" font-weight="bold" fill="#fff">0</text>
<text x="135" y="104" font-size="12.5" font-weight="bold" fill="#fff" textLength="24" lengthAdjust="spacingAndGlyphs">6.68</text>
<text x="163" y="104" font-size="35" fill="#fff" stroke="#1a1ad8" stroke-width="0.45" textLength="35" lengthAdjust="spacingAndGlyphs">41</text>
<text x="203" y="88" font-size="12" font-weight="bold" fill="#fff">5</text>
<path d="M1127.5 30 L1137.5 30 L1132.5 35.5 Z" fill="#c0c0c0"/>
<path d="M8.5 35.5 L12 40 L5 40 Z" fill="#000"/>
</svg></body></html>
